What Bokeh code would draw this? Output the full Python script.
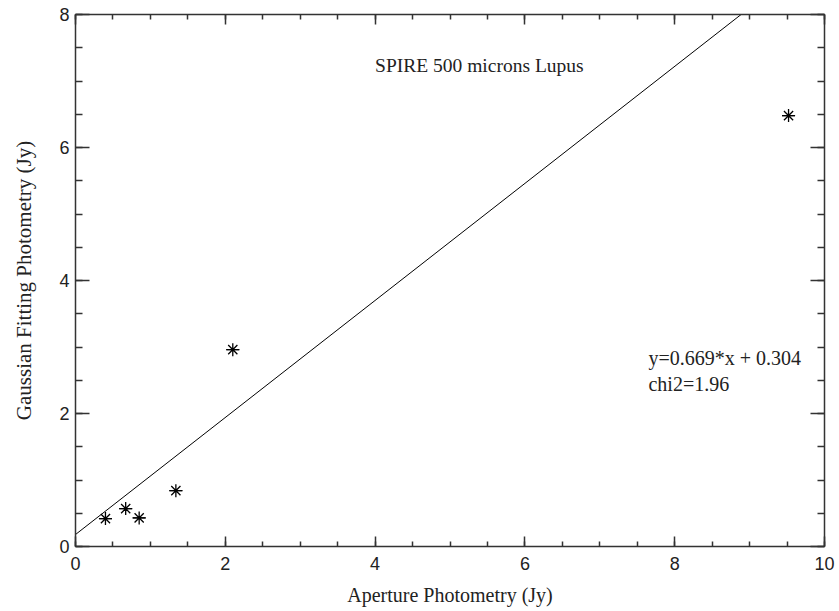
from bokeh.plotting import figure
from bokeh.models import (Range1d, LinearAxis, SingleIntervalTicker, Label,
                          CustomJSTickFormatter)
from bokeh.embed import file_html
from bokeh.resources import INLINE

# Source photometry (Jy): aperture vs. Gaussian fitting
aperture_jy = [0.40, 0.67, 0.85, 1.34, 2.10, 9.52]
gaussian_jy = [0.42, 0.57, 0.43, 0.84, 2.96, 6.48]

# Fitted line as drawn
line_slope = 0.88
line_intercept = 0.18
line_x = [0.0, 10.0]
line_y = [line_intercept + line_slope * v for v in line_x]

title_text = "SPIRE 500 microns Lupus"
fit_text = "y=0.669*x + 0.304"
chi_text = "chi2=1.96"

SERIF = "Liberation Serif"
SANS = "Liberation Sans"
AXIS_COLOR = "#333333"
TEXT_COLOR = "#222222"

p = figure(width=839, height=611, output_backend="svg", toolbar_location=None,
           x_range=Range1d(0, 10), y_range=Range1d(0, 8),
           min_border_left=75, min_border_right=15, min_border_top=14,
           min_border_bottom=65, x_axis_label="Aperture Photometry (Jy)",
           y_axis_label="Gaussian Fitting Photometry (Jy)")
p.xgrid.visible = False
p.ygrid.visible = False
p.outline_line_color = None
p.background_fill_color = "white"
p.border_fill_color = "white"

bottom_axis = p.below[0]
left_axis = p.left[0]


def style_axis(ax, major_len, minor_len, standoff):
    ax.ticker = SingleIntervalTicker(interval=2, num_minor_ticks=4)
    ax.axis_line_color = AXIS_COLOR
    ax.axis_line_width = 1.5
    ax.major_tick_line_color = AXIS_COLOR
    ax.minor_tick_line_color = AXIS_COLOR
    ax.major_tick_line_width = 1.5
    ax.minor_tick_line_width = 1.5
    ax.major_tick_in = major_len
    ax.major_tick_out = 0
    ax.minor_tick_in = minor_len
    ax.minor_tick_out = 0
    ax.major_label_text_font = SANS
    ax.major_label_text_color = TEXT_COLOR
    ax.major_label_text_font_size = "18px"
    ax.major_label_standoff = standoff


style_axis(bottom_axis, 10, 5, 10)
style_axis(left_axis, 14, 7, 6)

# Mirror axes on top and right: ticks only, no numbers
top_axis = LinearAxis()
right_axis = LinearAxis()
for ax, major_len, minor_len in ((top_axis, 10, 5), (right_axis, 14, 7)):
    style_axis(ax, major_len, minor_len, 0)
    ax.formatter = CustomJSTickFormatter(code="return ''")
    ax.major_label_text_font_size = "2px"
p.add_layout(top_axis, "above")
p.add_layout(right_axis, "right")

for ax, size, standoff in ((bottom_axis, "20px", 11), (left_axis, "21px", 20)):
    ax.axis_label_text_font = SERIF
    ax.axis_label_text_font_style = "normal"
    ax.axis_label_text_font_size = size
    ax.axis_label_text_color = TEXT_COLOR
    ax.axis_label_standoff = standoff

# Fit line
p.line(line_x, line_y, line_color="black", line_width=1)

# Sources as 8-armed stars
p.scatter(aperture_jy, gaussian_jy, marker="asterisk", size=13,
          line_color="black", line_width=1.3)
p.scatter(aperture_jy, gaussian_jy, marker="dash", size=13,
          line_color="black", line_width=1.3)

p.add_layout(Label(x=4.0, y=7.23, text=title_text, text_font=SERIF,
                   text_font_size="19.5px", text_color=TEXT_COLOR,
                   text_baseline="alphabetic"))
p.add_layout(Label(x=7.65, y=2.84, text=fit_text, text_font=SERIF,
                   text_font_size="20px", text_color=TEXT_COLOR,
                   text_baseline="alphabetic"))
p.add_layout(Label(x=7.65, y=2.45, text=chi_text, text_font=SERIF,
                   text_font_size="20px", text_color=TEXT_COLOR,
                   text_baseline="alphabetic"))

open("out.html", "w").write(file_html(p, INLINE))
